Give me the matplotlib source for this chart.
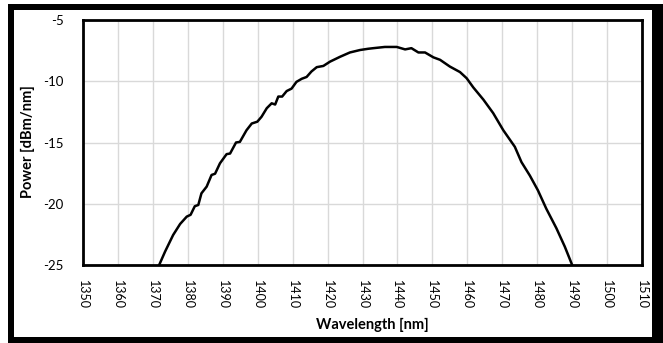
import matplotlib
matplotlib.use('Agg')
import matplotlib.pyplot as plt
from matplotlib.patches import Rectangle

# spectrum
wavelength = [1371.8, 1373.5, 1375.8, 1377.8, 1379.7, 1380.8, 1382.0, 1383.0, 1383.9, 1385.4,
              1386.8, 1387.8, 1389.2, 1391.1, 1392.1, 1393.8, 1394.9, 1396.8, 1398.3, 1399.9,
              1401.1, 1402.6, 1404.0, 1405.0, 1405.9, 1407.0, 1408.3, 1409.7, 1411.1, 1412.6,
              1414.0, 1415.4, 1416.9, 1418.8, 1420.7, 1423.6, 1426.4, 1429.3, 1431.6, 1433.1,
              1436.4, 1439.8, 1442.2, 1444.0, 1446.0, 1447.9, 1450.3, 1452.2, 1455.0, 1457.9,
              1459.8, 1461.7, 1464.6, 1467.4, 1470.3, 1473.6, 1475.5, 1477.9, 1480.2, 1482.6,
              1485.5, 1487.9, 1489.8, 1490.0]
power = [-25.0, -23.9, -22.55, -21.65, -21.05, -20.9, -20.2, -20.1, -19.15, -18.6,
         -17.65, -17.55, -16.7, -15.95, -15.9, -15.0, -14.95, -14.0, -13.45, -13.3,
         -12.9, -12.2, -11.8, -11.9, -11.25, -11.25, -10.8, -10.6, -10.05, -9.8,
         -9.65, -9.2, -8.85, -8.75, -8.4, -8.0, -7.65, -7.45, -7.35, -7.3,
         -7.2, -7.2, -7.4, -7.3, -7.65, -7.65, -8.05, -8.25, -8.8, -9.25,
         -9.75, -10.5, -11.5, -12.6, -14.0, -15.35, -16.6, -17.7, -18.9, -20.4,
         -22.0, -23.5, -24.85, -25.0]

x_ticks = list(range(1350, 1511, 10))
y_ticks = [-25, -20, -15, -10, -5]

plt.rcParams['font.family'] = ['Lato', 'DejaVu Sans']

W, H = 663, 343
fig = plt.figure(figsize=(W / 100, H / 100), dpi=100)
ax = fig.add_axes([83 / W, (H - 265) / H, 559 / W, 245 / H])

ax.plot(wavelength, power, color='black', linewidth=1.8)
ax.set_xlim(1350, 1510)
ax.set_ylim(-25, -5)
ax.set_xticks(x_ticks)
ax.set_yticks(y_ticks)
ax.set_xticklabels([str(t) for t in x_ticks], rotation=-90, fontsize=9)
ax.set_yticklabels([str(t) for t in y_ticks], fontsize=9.5)
ax.tick_params(length=0, pad=11)
ax.tick_params(axis='y', pad=14)
ax.grid(True, color='#d9d9d9', linewidth=1)
ax.set_axisbelow(True)
for s in ax.spines.values():
    s.set_linewidth(2)
    s.set_color('black')

fig.text(28 / W, 1 - 142 / H, 'Power [dBm/nm]', fontsize=10.5, fontweight='bold',
         rotation=90, ha='center', va='center')
fig.text(372 / W, 1 - 325 / H, 'Wavelength [nm]', fontsize=10.5, fontweight='bold',
         ha='center', va='center')

# thick black frame round the picture
def frame(x0, y0, x1, y1):
    fig.add_artist(Rectangle((x0 / W, 1 - y1 / H), (x1 - x0) / W, (y1 - y0) / H,
                             transform=fig.transFigure, color='black', linewidth=0))

frame(8, 4, 663, 9.5)
frame(8, 336.5, 663, 343)
frame(8, 4, 14, 343)
frame(652, 4, 663, 343)

fig.savefig('out.png', dpi=100)
